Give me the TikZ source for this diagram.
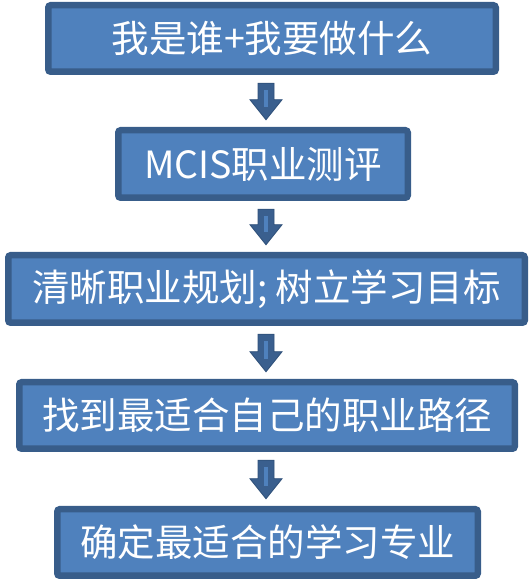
\documentclass[tikz,border=0pt]{standalone}
\usepackage{fontspec}
\setmainfont{Noto Sans CJK SC}
\usetikzlibrary{calc}
\definecolor{boxfill}{HTML}{4F81BD}
\definecolor{boxline}{HTML}{385D8A}
\definecolor{arrowfill}{HTML}{3A5F8E}
\definecolor{arrowline}{HTML}{2F5079}
\definecolor{arrowhi}{HTML}{4F81BD}
\tikzset{
  flowbox/.style={draw=boxline, fill=boxfill, line width=6.5pt, rounded corners=2.5pt,
    inner sep=0pt, text=white, font=\fontsize{37.5}{42}\selectfont},
  arrowbody/.style={fill=arrowfill, draw=arrowline, line width=0.8pt, line join=miter},
  arrowlight/.style={draw=arrowhi, line width=3.5pt}
}
\newcommand\flowarrow[2]{%
  \path[arrowbody] let \p1=($(#1.south -| ax)+(0,-8.25pt)$), \p2=($(#2.north -| ax)+(0,7.25pt)$) in
    (\x1-8pt,\y1) -- (\x1+8pt,\y1) -- (\x1+8pt,\y2+20pt) -- (\x1+16pt,\y2+20pt) -- (\x1,\y2)
    -- (\x1-16pt,\y2+20pt) -- (\x1-8pt,\y2+20pt) -- cycle;
  \path[arrowlight] let \p1=($(#1.south -| ax)+(0,-8.25pt)$), \p2=($(#2.north -| ax)+(0,7.25pt)$) in
    (\x1,\y1-7pt) -- (\x1,\y2+13pt);
}
\begin{document}
\begin{tikzpicture}[x=1pt,y=1pt]
\useasboundingbox (0,0) rectangle (531,581);
\coordinate (ax) at (266,300);
\node[flowbox, minimum width=447.5pt, minimum height=66.5pt] (b1) at (272,542.5) {我是谁+我要做什么};
\node[flowbox, minimum width=289.5pt, minimum height=67.5pt] (b2) at (263,417) {MCIS职业测评};
\node[flowbox, minimum width=516.5pt, minimum height=67.5pt] (b3) at (266.5,292) {清晰职业规划; 树立学习目标};
\node[flowbox, minimum width=495.5pt, minimum height=66.5pt] (b4) at (267,165.5) {找到最适合自己的职业路径};
\node[flowbox, minimum width=420.5pt, minimum height=66.5pt] (b5) at (267.5,38.5) {确定最适合的学习专业};
\flowarrow{b1}{b2}
\flowarrow{b2}{b3}
\flowarrow{b3}{b4}
\flowarrow{b4}{b5}
\end{tikzpicture}
\end{document}
